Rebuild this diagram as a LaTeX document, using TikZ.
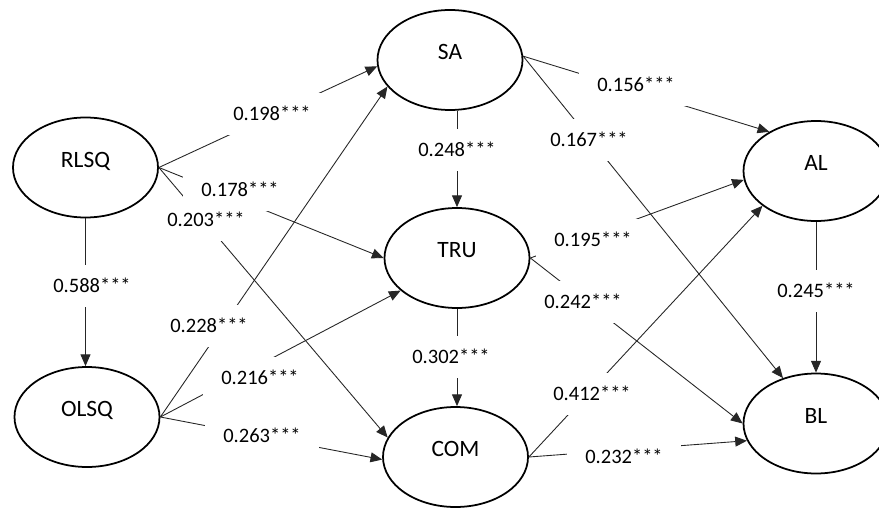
\documentclass[tikz,border=0pt]{standalone}
\usepackage{fontspec}
\setmainfont{Carlito}
\usetikzlibrary{arrows.meta,shapes.geometric}
\begin{document}
\begin{tikzpicture}[x=0.03cm,y=-0.03cm,
  latent/.style={draw=black, line width=1.5pt, ellipse, minimum width=4.35cm, minimum height=3cm, inner sep=0pt, font=\fontsize{20}{24}\selectfont, text height=10pt, text depth=10.7pt},
  conn/.style={draw=black!85, line width=0.75pt, -{Triangle[length=10pt,width=8.5pt]}},
  coef/.style={fill=white, inner sep=0pt, minimum width=3.42cm, minimum height=1.26cm, font=\fontsize{17.5}{20}\selectfont, text height=11.5pt, text depth=0pt}]
\clip (0,0) rectangle (879,508);
\fill[white] (0,0) rectangle (879,508);
% latent variables
\node[latent] (rlsq) at (85.5,167.5) {RLSQ};
\node[latent] (olsq) at (87,417) {OLSQ};
\node[latent] (sa) at (450,60) {SA};
\node[latent] (tru) at (457,258) {TRU};
\node[latent] (com) at (455.5,457) {COM};
\node[latent] (al) at (816,171) {AL};
\node[latent] (bl) at (816,423.5) {BL};
% paths
\draw[conn] (rlsq.east) -- (sa.185);
\draw[conn] (rlsq.east) -- (tru.west);
\draw[conn] (rlsq.east) -- (com.164);
\draw[conn] (rlsq.south) -- (rlsq.south |- olsq.north);
\draw[conn] (olsq.east) -- (sa.203);
\draw[conn] (olsq.east) -- (tru.210);
\draw[conn] (olsq.east) -- (com.182);
\draw[conn] (sa.south -| tru.north) -- (tru.north);
\draw[conn] (tru.south) -- (tru.south |- com.north);
\draw[conn] (sa.3) -- (al.140);
\draw[conn] (sa.3) -- (bl.126);
\draw[conn] (tru.east) -- (al.187);
\draw[conn] (tru.east) -- (bl.west);
\draw[conn] (com.east) -- (al.213);
\draw[conn] (com.east) -- (bl.194);
\draw[conn] (al.south) -- (bl.north);
% coefficients
\node[coef] (c1) at (272,114) {0.198***};
\node[coef] (c2) at (240,190) {0.178***};
\node[coef] (c3) at (206,220) {0.203***};
\node[coef] (c4) at (92,286) {0.588***};
\node[coef] (c5) at (209,326) {0.228***};
\node[coef] (c6) at (260,378) {0.216***};
\node[coef] (c7) at (262,436) {0.263***};
\node[coef] (c8) at (457,150) {0.248***};
\node[coef] (c9) at (451,357) {0.302***};
\node[coef] (c10) at (636,85) {0.156***};
\node[coef] (c11) at (589,140) {0.167***};
\node[coef] (c12) at (593,240) {0.195***};
\node[coef] (c13) at (583,302) {0.242***};
\node[coef] (c14) at (592,394) {0.412***};
\node[coef] (c15) at (624,457) {0.232***};
\node[coef] (c16) at (816,291) {0.245***};
\end{tikzpicture}
\end{document}
